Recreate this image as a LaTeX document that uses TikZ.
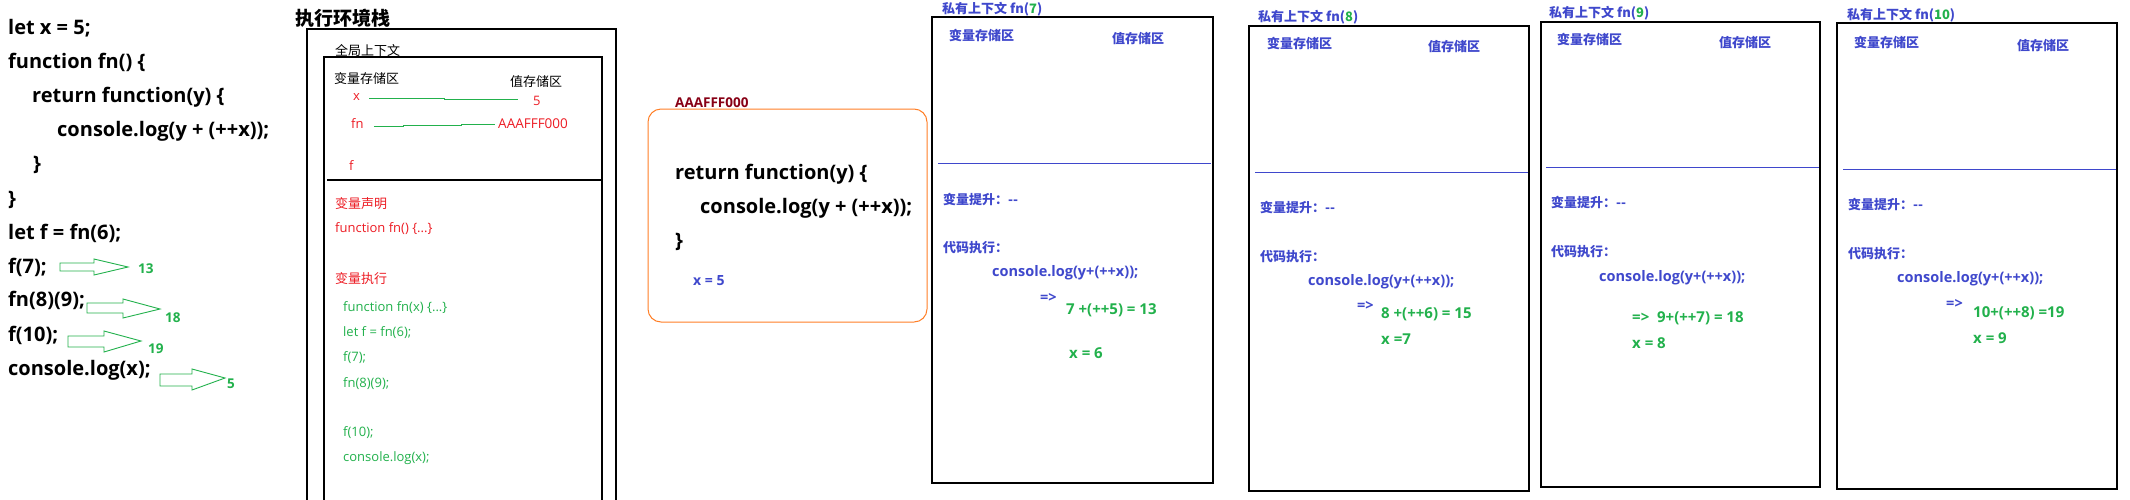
\documentclass[tikz,border=0pt]{standalone}
\usepackage{fontspec}
\setmainfont{Open Sans}
\newfontfamily\cjk{Noto Sans CJK SC}
\definecolor{pred}{HTML}{ED1C24}
\definecolor{pgreen}{HTML}{22B14C}
\definecolor{pblue}{HTML}{3F48CC}
\definecolor{porange}{HTML}{FF7F27}
\definecolor{pdark}{HTML}{880015}
\begin{document}
\begin{tikzpicture}[x=1pt,y=-1pt,
  every node/.style={inner sep=0pt, anchor=west},
  code/.style={font=\fontsize{20}{23}\selectfont\bfseries},
  sm/.style={font=\fontsize{13}{15}\selectfont},
  smcjk/.style={font=\fontsize{13}{15}\selectfont\cjk},
  smcjkb/.style={font=\fontsize{13}{15}\selectfont\cjk\bfseries},
  blue/.style={text=pblue},
  res/.style={font=\fontsize{15}{17}\selectfont\bfseries, text=pgreen},
  con/.style={font=\fontsize{14.5}{17}\selectfont\bfseries, text=pblue},
  harrow/.style={draw=pgreen, line width=0.9pt, fill=white, line join=miter},
  alabel/.style={font=\fontsize{13.5}{15}\selectfont\bfseries, text=pgreen},
  box/.style={draw=black, line width=1.2pt},
  pbox/.style={draw=black, line width=1.2pt},
  bline/.style={draw=pblue, line width=1pt},
  gline/.style={draw=pgreen, line width=1pt},
  obox/.style={draw=porange, line width=1pt, rounded corners=13pt}]
\useasboundingbox[fill=white] (0,0) rectangle (2130,499);

% ---------- left code ----------
\node[code] (c1) at (8,28) {let x = 5;};
\node[code] (c2) at (8,62) {function fn() \{};
\node[code] (c3) at (32,97) {return function(y) \{};
\node[code] (c4) at (57,131) {console.log(y + (++x));};
\node[code] (c5) at (33,165) {\}};
\node[code] (c6) at (8,200) {\}};
\node[code] (c7) at (8,233) {let f = fn(6);};
\node[code] (c8) at (8,267) {f(7);};
\node[code] (c9) at (8,300) {fn(8)(9);};
\node[code] (c10) at (8,335) {f(10);};
\node[code] (c11) at (8,370) {console.log(x);};

\draw[harrow] (60,263) -- (94,263) -- (94,259) -- (128,267) -- (94,275) -- (94,271) -- (60,271) -- cycle;
\draw[harrow] (87,303) -- (123,303) -- (123,299) -- (160,309) -- (123,318) -- (123,313) -- (87,313) -- cycle;
\draw[harrow] (68,336) -- (104,336) -- (104,331) -- (141,341) -- (104,352) -- (104,347) -- (68,347) -- cycle;
\draw[harrow] (160,374) -- (192,374) -- (192,369) -- (225,378) -- (192,390) -- (192,386) -- (160,386) -- cycle;
\node[alabel] (r1) at (138,269) {13};
\node[alabel] (r2) at (165,318) {18};
\node[alabel] (r3) at (148,349) {19};
\node[alabel] (r4) at (227,384) {5};

% ---------- execution stack ----------
\node[font=\fontsize{19}{22}\selectfont\cjk\bfseries] (stk) at (295,18) {执行环境栈};
\draw[box] (307,500) -- (307,29) -- (616,29) -- (616,500);
\node[smcjk] (glob) at (335,50) {全局上下文};
\draw[box] (324,500) -- (324,57) -- (602,57) -- (602,500);
\draw[box] (327,180) -- (603,180);
\node[smcjk] (gvar) at (334,79) {变量存储区};
\node[smcjk] (gval) at (510,82) {值存储区};
\node[sm, text=pred] (vx) at (353,97) {x};
\node[sm, text=pred] (v5) at (533,101) {5};
\node[sm, text=pred] (vfn) at (351,124) {fn};
\node[font=\fontsize{13.5}{15}\selectfont, text=pred] (vaddr) at (498,124) {AAAFFF000};
\node[sm, text=pred] (vf) at (349,166) {f};
\draw[gline] ([xshift=9pt,yshift=-1.5pt]vx.east) -- ++(75,0) -- ++(0,1) -- ++(74,0);
\draw[gline] ([xshift=10pt,yshift=-2.5pt]vfn.east) -- ++(30,0) -- ++(0,-1) -- ++(58,0) -- ++(0,-1) -- ([xshift=-3pt,yshift=-0.5pt]vaddr.west);
\node[smcjk, text=pred] (decl) at (335,204) {变量声明};
\node[sm, text=pred] (decl1) at (335,229) {function fn() \{...\}};
\node[smcjk, text=pred] (exe) at (335,279) {变量执行};
\node[sm, text=pgreen] (e1) at (343,308) {function fn(x) \{...\}};
\node[sm, text=pgreen] (e2) at (343,333) {let f = fn(6);};
\node[sm, text=pgreen] (e3) at (343,358) {f(7);};
\node[sm, text=pgreen] (e4) at (343,384) {fn(8)(9);};
\node[sm, text=pgreen] (e5) at (343,433) {f(10);};
\node[sm, text=pgreen] (e6) at (343,458) {console.log(x);};

% ---------- heap object ----------
\node[font=\fontsize{13.5}{15}\selectfont\bfseries, text=pdark] (haddr) at (675,103) {AAAFFF000};
\draw[obox] (648,109) rectangle (927,322);
\node[code] (h1) at (675,174) {return function(y) \{};
\node[code] (h2) at (700,208) {console.log(y + (++x));};
\node[code] (h3) at (675,242) {\}};
\node[font=\fontsize{14}{16}\selectfont\bfseries, text=pblue] (hx) at (693,281) {x = 5};

% ---------- private context fn(7) ----------
\draw[pbox] (932,17) rectangle (1213,483);
\node[smcjkb, blue] (t1) at (942,9) {私有上下文 fn(\textcolor{pgreen}{7})};
\node[smcjkb, blue] (s1) at (949,35) {变量存储区};
\node[smcjkb, blue] (w1) at (1112,39) {值存储区};
\draw[bline] (938,163) -- (1211,163);
\node[smcjkb, blue] (p1) at (943,199) {变量提升：--};
\node[smcjkb, blue] (x1) at (943,248) {代码执行：};
\node[con] (k1) at (992,273) {console.log(y+(++x));};
\node[con] (a1) at (1040,298) {=>};
\node[res] (q1) at (1066,310) {7 +(++5) = 13};
\node[res] (z1) at (1069,353) {x = 6};

% ---------- private context fn(8) ----------
\draw[pbox] (1249,26) rectangle (1529,491);
\node[smcjkb, blue] (t2) at (1258,17) {私有上下文 fn(\textcolor{pgreen}{8})};
\node[smcjkb, blue] (s2) at (1267,43) {变量存储区};
\node[smcjkb, blue] (w2) at (1428,47) {值存储区};
\draw[bline] (1255,172) -- (1528,172);
\node[smcjkb, blue] (p2) at (1260,207) {变量提升：--};
\node[smcjkb, blue] (x2) at (1260,257) {代码执行：};
\node[con] (k2) at (1308,282) {console.log(y+(++x));};
\node[con] (a2) at (1357,306) {=>};
\node[res] (q2) at (1381,314) {8 +(++6) = 15};
\node[res] (z2) at (1381,339) {x =7};

% ---------- private context fn(9) ----------
\draw[pbox] (1541,22) rectangle (1820,487);
\node[smcjkb, blue] (t3) at (1549,13) {私有上下文 fn(\textcolor{pgreen}{9})};
\node[smcjkb, blue] (s3) at (1557,39) {变量存储区};
\node[smcjkb, blue] (w3) at (1719,43) {值存储区};
\draw[bline] (1546,167) -- (1819,167);
\node[smcjkb, blue] (p3) at (1551,202) {变量提升：--};
\node[smcjkb, blue] (x3) at (1551,252) {代码执行：};
\node[con] (k3) at (1599,278) {console.log(y+(++x));};
\node[res] (q3) at (1632,318) {=>\ \ 9+(++7) = 18};
\node[res] (z3) at (1632,343) {x = 8};

% ---------- private context fn(10) ----------
\draw[pbox] (1837,23) rectangle (2117,489);
\node[smcjkb, blue] (t4) at (1847,15) {私有上下文 fn(\textcolor{pgreen}{10})};
\node[smcjkb, blue] (s4) at (1854,42) {变量存储区};
\node[smcjkb, blue] (w4) at (2017,46) {值存储区};
\draw[bline] (1843,169) -- (2116,169);
\node[smcjkb, blue] (p4) at (1848,204) {变量提升：--};
\node[smcjkb, blue] (x4) at (1848,254) {代码执行：};
\node[con] (k4) at (1897,279) {console.log(y+(++x));};
\node[con] (a4) at (1946,304) {=>};
\node[res] (q4) at (1973,313) {10+(++8) =19};
\node[res] (z4) at (1973,338) {x = 9};
\end{tikzpicture}
\end{document}
